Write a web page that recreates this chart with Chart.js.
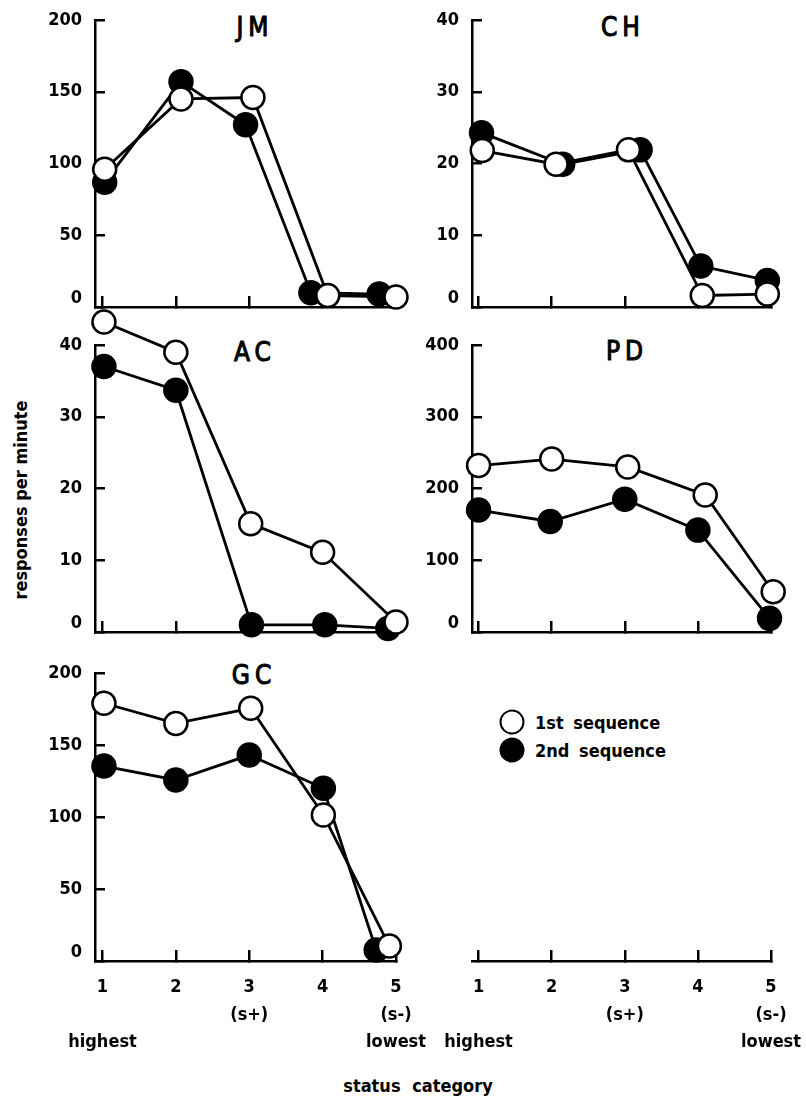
<!DOCTYPE html>
<html>
<head>
<meta charset="utf-8">
<script src="https://cdn.jsdelivr.net/npm/chart.js@4.4.1/dist/chart.umd.min.js"></script>
<style>
    html, body { overflow: hidden; }
    body { margin: 0; background: #fff; width: 806px; height: 1101px; position: relative;
           font-family: "DejaVu Sans Condensed", "DejaVu Sans", sans-serif; font-stretch: condensed; font-weight: bold; color: #000; }
    canvas { position: absolute; left: -100px; top: -100px; }
    .lbl { position: absolute; white-space: nowrap; transform: translate(-50%, -50%); }
    .name { font-size: 26px; letter-spacing: 5px; font-weight: normal; -webkit-text-stroke: 1px #000; }
    .txt { font-size: 18px; }
    .dot { position: absolute; width: 21px; height: 21px; border: 2.5px solid #000; border-radius: 50%; transform: translate(-50%, -50%); }
</style>
</head>
<body>

<div class="lbl name" style="left:255px; top:27px">JM</div>
<div class="lbl name" style="left:623px; top:27px">CH</div>
<div class="lbl name" style="left:255px; top:352px">AC</div>
<div class="lbl name" style="left:627px; top:351px">PD</div>
<div class="lbl name" style="left:254px; top:675px">GC</div>

<div class="lbl txt" style="left:20px; top:500px; transform: translate(-50%, -50%) rotate(-90deg)">responses per minute</div>
<div class="lbl txt" style="left:418px; top:1085px; word-spacing:6px">status category</div>

<div class="dot" style="left:512px; top:722px; background:#fff"></div>
<div class="lbl txt" style="left:535px; top:722px; transform: translate(0, -50%); word-spacing:4px">1st sequence</div>
<div class="dot" style="left:512px; top:750px; background:#000"></div>
<div class="lbl txt" style="left:535px; top:750px; transform: translate(0, -50%); word-spacing:4px">2nd sequence</div>

<script>
// status categories and their labels
const categories = [1, 2, 3, 4, 5];
const tickLabels = [['1', '', 'highest'], ['2'], ['3', '(s+)'], ['4'], ['5', '(s-)', 'lowest']];

// JM
const jmTicks = [0, 50, 100, 150, 200];
const jmFirstX = [1.03, 2.07, 3.05, 4.07, 5.0];
const jmFirst = [96, 145, 146, 8, 7];
const jmSecondX = [1.03, 2.07, 2.95, 3.84, 4.77];
const jmSecond = [87, 157, 127, 10, 9];

// CH
const chTicks = [0, 10, 20, 30, 40];
const chFirstX = [1.05, 2.06, 3.05, 4.06, 4.95];
const chFirst = [21.8, 19.9, 21.9, 1.6, 1.8];
const chSecondX = [1.04, 2.15, 3.21, 4.04, 4.95];
const chSecond = [24.3, 19.9, 21.9, 5.7, 3.7];

// AC
const acTicks = [0, 10, 20, 30, 40];
const acFirstX = [1.02, 2.0, 3.02, 4.0, 5.0];
const acFirst = [43.2, 39.0, 15.1, 11.1, 1.4];
const acSecondX = [1.02, 2.0, 3.03, 4.03, 4.89];
const acSecond = [37.0, 33.7, 1.0, 1.0, 0.5];

// PD
const pdTicks = [0, 100, 200, 300, 400];
const pdFirstX = [1.0, 2.0, 3.04, 4.1, 5.03];
const pdFirst = [232, 241, 230, 191, 56];
const pdSecondX = [1.0, 1.98, 3.0, 4.0, 4.98];
const pdSecond = [170, 154, 185, 142, 19];

// GC
const gcTicks = [0, 50, 100, 150, 200];
const gcFirstX = [1.02, 2.0, 3.02, 4.01, 4.91];
const gcFirst = [179, 165, 175.5, 101.4, 10.4];
const gcSecondX = [1.02, 2.0, 3.0, 4.01, 4.73];
const gcSecond = [135.4, 125.7, 143, 120, 7.6];

const tickFont = {
    family: '"DejaVu Sans Condensed", "DejaVu Sans", sans-serif',
    size: 18,
    weight: 'bold',
    lineHeight: 1.55
};
// the "0" label sits a bit above the axis in the original
const zeroFont = {...tickFont, lineHeight: 1.0};

// canvases are bigger than the page so the axis padding never eats into the plot
const OFF = 100;
const W = 806 + 2 * OFF;
const H = 1101 + 2 * OFF;

function points(xs, ys)
{
    return xs.map((x, i) => ({x: x, y: ys[i]}));
}

function series(data, fill)
{
    return {
        data: data,
        borderColor: '#000',
        borderWidth: 2.8,
        backgroundColor: fill,
        pointBackgroundColor: fill,
        pointBorderColor: '#000',
        pointBorderWidth: 2.5,
        pointRadius: 11.5,
        pointStyle: 'circle',
        tension: 0,
        clip: false
    };
}

// points that sit above the axis top are skipped by chart.js, draw them anyway
const outsidePoints = {
    id: 'outsidePoints',
    afterDatasetsDraw(chart)
    {
        const area = chart.chartArea;
        for (let i = chart.data.datasets.length - 1; i >= 0; i--) {
            chart.getDatasetMeta(i).data.forEach(p => {
                if (p.y < area.top - 10 || p.y > area.bottom + 10) p.draw(chart.ctx);
            });
        }
    }
};

function makePanel(box, yTicks, first, second, showLabels)
{
    const canvas = document.createElement('canvas');
    canvas.width = W;
    canvas.height = H;
    document.body.appendChild(canvas);

    const yWidth = yTicks ? 60 : 0;
    const datasets = first ? [series(first, '#fff'), series(second, '#000')] : [];

    new Chart(canvas, {
        type: 'line',
        data: { datasets: datasets },
        plugins: [outsidePoints],
        options: {
            responsive: false,
            animation: false,
            events: [],
            layout: {
                padding: {
                    left: box.left + OFF - yWidth,
                    top: box.top + OFF,
                    right: W - box.right - OFF,
                    bottom: H - box.bottom - OFF - 100
                }
            },
            plugins: { legend: { display: false }, tooltip: { enabled: false } },
            scales: {
                x: {
                    type: 'linear',
                    min: box.xMin,
                    max: 5,
                    afterBuildTicks: s => { s.ticks = categories.map(v => ({value: v})); },
                    afterFit: s => { s.height = 100; },
                    border: { display: true, color: '#000', width: 2.5 },
                    grid: { display: true, drawOnChartArea: false, drawTicks: true, tickLength: -11, color: '#000', lineWidth: 2.5 },
                    ticks: {
                        display: showLabels,
                        color: '#000',
                        font: tickFont,
                        padding: 23,
                        maxRotation: 0,
                        autoSkip: false,
                        callback: v => tickLabels[categories.indexOf(v)]
                    }
                },
                y: {
                    display: !!yTicks,
                    min: 0,
                    max: yTicks ? yTicks[yTicks.length - 1] : 1,
                    afterBuildTicks: s => { if (yTicks) s.ticks = yTicks.map(v => ({value: v})); },
                    afterFit: s => { s.width = yWidth; },
                    border: { display: true, color: '#000', width: 2.5 },
                    grid: { display: true, drawOnChartArea: false, drawTicks: true, tickLength: -10, color: '#000', lineWidth: 2.5 },
                    ticks: {
                        color: '#000',
                        padding: 23,
                        font: c => (c.tick && c.tick.value === 0) ? zeroFont : tickFont,
                        callback: v => v === 0 ? ['0', ''] : String(v)
                    }
                }
            }
        }
    });
}

const leftCol = { left: 95, right: 396, xMin: 0.898 };
const rightCol = { left: 472, right: 771, xMin: 0.91 };
const rows = [{ top: 20, bottom: 307 }, { top: 345, bottom: 632 }, { top: 673, bottom: 961 }];

makePanel({...leftCol, ...rows[0]}, jmTicks, points(jmFirstX, jmFirst), points(jmSecondX, jmSecond), false);
makePanel({...rightCol, ...rows[0]}, chTicks, points(chFirstX, chFirst), points(chSecondX, chSecond), false);
makePanel({...leftCol, ...rows[1]}, acTicks, points(acFirstX, acFirst), points(acSecondX, acSecond), false);
makePanel({...rightCol, ...rows[1]}, pdTicks, points(pdFirstX, pdFirst), points(pdSecondX, pdSecond), false);
makePanel({...leftCol, ...rows[2]}, gcTicks, points(gcFirstX, gcFirst), points(gcSecondX, gcSecond), true);
makePanel({...rightCol, ...rows[2]}, null, null, null, true);
</script>
</body>
</html>
